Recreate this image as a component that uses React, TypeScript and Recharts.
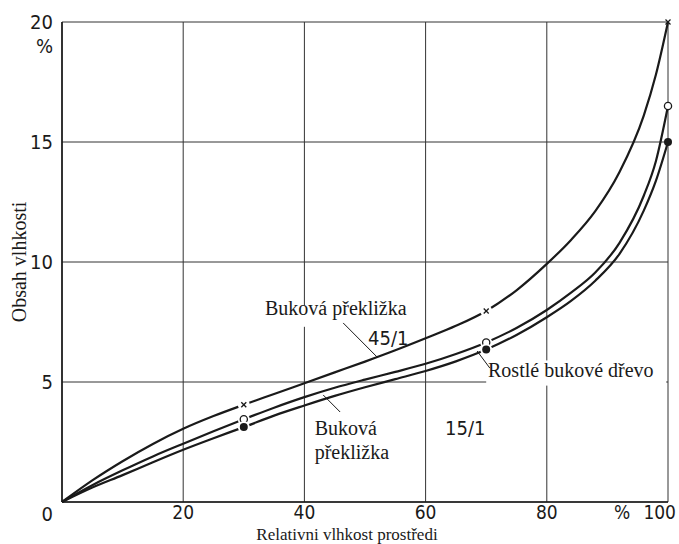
import React from "react";
import { ComposedChart, Line, XAxis, YAxis, CartesianGrid } from "recharts";

// Relative humidity of surroundings (%)
const RH = [0, 5, 10, 15, 20, 25, 30, 35, 40, 45, 50, 55, 60, 65, 70, 75, 80, 84, 88, 92, 96, 98, 100];
// Buková překližka 45/1
const PLYWOOD_45 = [0, 0.9, 1.7, 2.42, 3.05, 3.58, 4.05, 4.5, 4.95, 5.4, 5.85, 6.32, 6.82, 7.34, 7.96, 8.82, 9.92, 10.92, 12.12, 13.75, 16.1, 17.8, 20.0];
// Rostlé bukové dřevo
const SOLID_BEECH = [0, 0.7, 1.32, 1.9, 2.43, 2.95, 3.45, 3.93, 4.37, 4.76, 5.1, 5.42, 5.76, 6.17, 6.65, 7.25, 8.0, 8.72, 9.56, 10.8, 12.76, 14.2, 16.5];
// Buková překližka 15/1
const PLYWOOD_15 = [0, 0.6, 1.12, 1.66, 2.18, 2.66, 3.12, 3.6, 4.02, 4.42, 4.78, 5.12, 5.46, 5.86, 6.35, 6.96, 7.7, 8.38, 9.22, 10.34, 12.14, 13.38, 15.0];

const MARK_AT = [30, 70, 100];
const X_TICKS = [0, 20, 40, 60, 80, 100];
const Y_TICKS = [0, 5, 10, 15, 20];

const data = RH.map((rh, i) => ({
  rh,
  p45: PLYWOOD_45[i],
  wood: SOLID_BEECH[i],
  p15: PLYWOOD_15[i],
}));

const W = 679;
const H = 544;
const M_TOP = 22;
const M_RIGHT = 11;
const Y_W = 62;
const X_H = 42;
const PW = W - Y_W - M_RIGHT;
const PH = H - M_TOP - X_H;
const sx = (x: number) => Y_W + (x / 100) * PW;
const sy = (y: number) => M_TOP + PH - (y / 20) * PH;

const TICK_FONT = "'Liberation Sans Narrow', 'DejaVu Sans Condensed', 'Arial Narrow', sans-serif";
const SERIF = "'Liberation Serif', 'DejaVu Serif', serif";
const INK = "#1a1a1a";

const makeDot = (kind: "cross" | "open" | "filled") => (props: any) => {
  const { cx, cy, payload, index } = props;
  if (!MARK_AT.includes(payload.rh)) return <g key={`d-${kind}-${index}`} />;
  const halo = payload.rh !== 100 ? <circle cx={cx} cy={cy} r={6} fill="#fff" /> : null;
  if (kind === "cross") {
    return (
      <g key={`d-${kind}-${index}`}>
        {halo}
        <line x1={cx - 2.5} y1={cy - 2.5} x2={cx + 2.5} y2={cy + 2.5} stroke={INK} strokeWidth={1.3} />
        <line x1={cx - 2.5} y1={cy + 2.5} x2={cx + 2.5} y2={cy - 2.5} stroke={INK} strokeWidth={1.3} />
      </g>
    );
  }
  if (kind === "open") {
    return (
      <g key={`d-${kind}-${index}`}>
        {halo}
        <circle cx={cx} cy={cy} r={3.6} fill="#fff" stroke={INK} strokeWidth={1.3} />
      </g>
    );
  }
  return (
    <g key={`d-${kind}-${index}`}>
      {halo}
      <circle cx={cx} cy={cy} r={4} fill={INK} />
    </g>
  );
};

const XTick = (props: any) => {
  const { x, y, payload } = props;
  const v = payload.value;
  const common = { fontFamily: TICK_FONT, fontSize: 19, fill: INK };
  if (v === 0) return <g />;
  if (v === 100) {
    return (
      <g>
        <text x={x - 46} y={y} dy="0.71em" textAnchor="middle" {...common}>%</text>
        <text x={x + 8} y={y} dy="0.71em" textAnchor="end" {...common}>100</text>
      </g>
    );
  }
  return (
    <text x={x} y={y} dy="0.71em" textAnchor="middle" {...common}>{v}</text>
  );
};

const YTick = (props: any) => {
  const { x, y, payload } = props;
  const v = payload.value;
  const common = { fontFamily: TICK_FONT, fontSize: 20, fill: INK, textAnchor: "end" as const };
  if (v === 0) {
    return <text x={x} y={y + 12} dy="0.355em" {...common}>0</text>;
  }
  if (v === 20) {
    return (
      <g>
        <text x={x} y={y} dy="0.355em" {...common}>20</text>
        <text x={x} y={y + 24} dy="0.355em" {...common}>%</text>
      </g>
    );
  }
  return <text x={x} y={y} dy="0.355em" {...common}>{v}</text>;
};

const Leader = ({ a, b }: { a: [number, number]; b: [number, number] }) => (
  <line x1={sx(a[0])} y1={sy(a[1])} x2={sx(b[0])} y2={sy(b[1])} stroke={INK} strokeWidth={1} />
);

const Label = ({ x, y, children, font = SERIF }: { x: number; y: number; children: React.ReactNode; font?: string }) => (
  <text x={sx(x)} y={sy(y)} fontFamily={font} fontSize={20} fill={INK}>{children}</text>
);

export default function App() {
  return (
    <div style={{ position: "absolute", left: 0, top: 0, width: W, height: H, background: "#fff" }}>
      <ComposedChart width={W} height={H} data={data} margin={{ top: M_TOP, right: M_RIGHT, left: 0, bottom: 0 }}>
        <CartesianGrid stroke="#333" strokeWidth={1} />
        <XAxis
          type="number"
          dataKey="rh"
          domain={[0, 100]}
          ticks={X_TICKS}
          height={X_H}
          tickSize={0}
          tickMargin={4}
          tick={<XTick />}
          axisLine={{ stroke: INK, strokeWidth: 1.6 }}
          interval={0}
        />
        <YAxis
          type="number"
          domain={[0, 20]}
          ticks={Y_TICKS}
          width={Y_W}
          tickSize={0}
          tickMargin={9}
          tick={<YTick />}
          axisLine={{ stroke: INK, strokeWidth: 1.6 }}
          interval={0}
        />
        <Line type="monotone" dataKey="p45" stroke={INK} strokeWidth={2.2} dot={makeDot("cross")} activeDot={false} isAnimationActive={false} />
        <Line type="monotone" dataKey="wood" stroke={INK} strokeWidth={2.2} dot={makeDot("open")} activeDot={false} isAnimationActive={false} />
        <Line type="monotone" dataKey="p15" stroke={INK} strokeWidth={2.2} dot={makeDot("filled")} activeDot={false} isAnimationActive={false} />
      </ComposedChart>
      <svg width={W} height={H} style={{ position: "absolute", left: 0, top: 0, pointerEvents: "none" }}>
        <rect x={sx(33)} y={sy(8.2)} width={sx(57.5) - sx(33)} height={sy(7.3) - sy(8.2)} fill="#fff" />
        <rect x={sx(70)} y={sy(5.9)} width={sx(99.7) - sx(70)} height={sy(4.85) - sy(5.9)} fill="#fff" />
        <Label x={33.5} y={7.79}>Buková překližka</Label>
        <Label x={50.5} y={6.54} font={TICK_FONT}>45/1</Label>
        <Leader a={[46.4, 7.46]} b={[52.0, 6.04]} />
        <Label x={70.3} y={5.2}>Rostlé bukové dřevo</Label>
        <Leader a={[68.5, 6.29]} b={[70.6, 5.58]} />
        <Label x={41.7} y={2.79}>Buková</Label>
        <Label x={41.7} y={1.79}>překližka</Label>
        <Leader a={[43.1, 4.46]} b={[45.9, 3.75]} />
        <Label x={63.2} y={2.79} font={TICK_FONT}>15/1</Label>
        <text x={347} y={540} textAnchor="middle" fontFamily={SERIF} fontSize={17} fill={INK}>Relativni vlhkost prostředi</text>
        <text x={19} y={262} transform="rotate(-90 19 262)" textAnchor="middle" dominantBaseline="central" fontFamily={SERIF} fontSize={20} fill={INK}>Obsah vlhkosti</text>
      </svg>
    </div>
  );
}
